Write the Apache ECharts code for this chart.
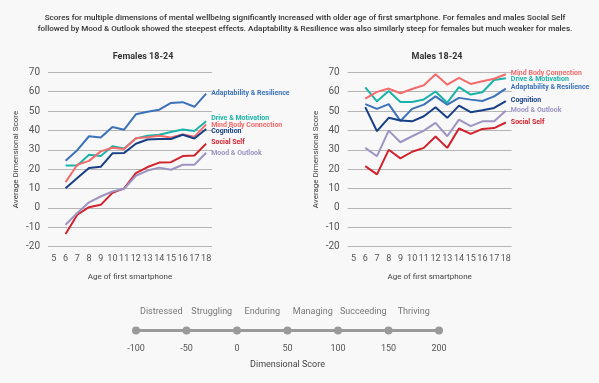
<!DOCTYPE html>
<html>
<head>
<meta charset="utf-8">
<script src="https://cdn.jsdelivr.net/npm/echarts@6/dist/echarts.min.js"></script>
<style>
html,body{margin:0;padding:0;background:#f8f8f8;}
#chart{width:599px;height:383px;}
</style>
</head>
<body>
<div id="chart"></div>
<script>
// ---- data ----
const ages = ['5','6','7','8','9','10','11','12','13','14','15','16','17','18'];
const seriesNames = ['Adaptability & Resilience','Drive & Motivation','Mind Body Connection','Cognition','Social Self','Mood & Outlook'];

// Females 18-24, ages 6..18
const femAdapt  = [24.4, 29.8, 37.0, 36.3, 41.8, 40.4, 48.3, 49.6, 50.7, 54.2, 54.6, 52.2, 59.0];
const femDrive  = [21.9, 21.9, 27.5, 26.8, 31.8, 30.7, 35.8, 37.3, 37.8, 39.2, 40.5, 39.7, 44.7];
const femMind   = [13.3, 22.3, 24.3, 29.2, 31.1, 30.4, 36.0, 36.5, 37.2, 36.4, 37.9, 36.8, 43.1];
const femCog    = [10.2, 15.4, 20.6, 21.2, 28.2, 28.4, 33.1, 35.3, 35.6, 35.6, 37.8, 35.8, 40.7];
const femSocial = [-13.4, -3.5, 0.4, 1.6, 7.8, 10.1, 18.0, 21.1, 23.4, 23.6, 26.8, 27.1, 33.2];
const femMood   = [-8.7, -2.6, 2.9, 5.9, 8.5, 9.9, 16.6, 19.3, 20.8, 19.7, 22.3, 22.3, 28.5];

// Males 18-24, ages 6..18
const malAdapt  = [53.6, 51.1, 53.6, 44.9, 51.1, 53.3, 57.6, 53.3, 56.8, 55.9, 55.2, 57.6, 61.6];
const malDrive  = [62.2, 55.0, 60.3, 54.7, 54.7, 56.0, 60.1, 54.3, 62.3, 58.5, 59.7, 66.0, 66.9];
const malMind   = [56.4, 59.9, 61.6, 59.2, 61.4, 63.3, 69.0, 63.6, 67.1, 64.0, 65.4, 66.7, 69.0];
const malCog    = [52.0, 39.6, 46.5, 45.1, 44.7, 47.3, 52.0, 46.5, 52.8, 49.4, 50.4, 51.6, 55.1];
const malSocial = [21.6, 17.3, 30.0, 25.6, 29.0, 31.0, 36.9, 31.0, 41.0, 38.2, 40.8, 41.2, 44.1];
const malMood   = [31.0, 26.7, 39.9, 33.9, 37.0, 39.9, 43.9, 37.0, 45.6, 42.2, 44.7, 44.7, 50.2];

const yTicks = [-20, -10, 0, 10, 20, 30, 40, 50, 60, 70];
const scaleTicks = [-100, -50, 0, 50, 100, 150, 200];
const scaleBands = ['Distressed','Struggling','Enduring','Managing','Succeeding','Thriving'];

// ---- style ----
const colors = {
  'Adaptability & Resilience': '#3b72b8',
  'Drive & Motivation': '#1bb3a9',
  'Mind Body Connection': '#f36b6b',
  'Cognition': '#173f86',
  'Social Self': '#d1222d',
  'Mood & Outlook': '#9d94c1'
};
const FONT = 'Roboto';
const femLabelDy = {'Adaptability & Resilience':0,'Drive & Motivation':-3,'Mind Body Connection':1,'Cognition':2.5,'Social Self':-1,'Mood & Outlook':0.5};
const malLabelDy = {'Adaptability & Resilience':-1,'Drive & Motivation':0.5,'Mind Body Connection':-1,'Cognition':-1,'Social Self':-0.5,'Mood & Outlook':0};

const chart = echarts.init(document.getElementById('chart'), null, {renderer:'canvas'});

function lineSeries(name, vals, idx, dyMap) {
  return {
    type: 'line', name: name,
    xAxisIndex: idx, yAxisIndex: idx,
    data: [null].concat(vals),
    symbol: 'none', smooth: false,
    lineStyle: {width: 2, color: colors[name]},
    itemStyle: {color: colors[name]},
    endLabel: {
      show: true, formatter: name, color: colors[name],
      fontFamily: FONT, fontSize: 7, fontWeight: 'bold',
      distance: 5, offset: [0, dyMap[name]]
    },
    emphasis: {disabled: true},
    z: 3
  };
}

function catAxis(idx) {
  return {
    type: 'category', gridIndex: idx, data: ages, boundaryGap: true,
    axisLine: {show: false}, axisTick: {show: false},
    axisLabel: {interval: 0, fontFamily: FONT, fontSize: 9, color: '#555', margin: 8},
    name: 'Age of first smartphone', nameLocation: 'middle', nameGap: 26,
    nameTextStyle: {fontFamily: FONT, fontSize: 8, color: '#444'}
  };
}
function valAxis(idx) {
  return {
    type: 'value', gridIndex: idx, min: yTicks[0], max: yTicks[yTicks.length-1], interval: 10,
    axisLine: {show: false}, axisTick: {show: false},
    axisLabel: {fontFamily: FONT, fontSize: 10, color: '#555', margin: 8},
    splitLine: {lineStyle: {color: '#b5b5b5', width: 1}},
    name: 'Average Dimensional Score', nameLocation: 'middle', nameGap: 28,
    nameTextStyle: {fontFamily: FONT, fontSize: 8, color: '#444'}
  };
}

const fem = [femAdapt, femDrive, femMind, femCog, femSocial, femMood];
const mal = [malAdapt, malDrive, malMind, malCog, malSocial, malMood];

const series = [];
seriesNames.forEach((n, i) => series.push(lineSeries(n, fem[i], 0, femLabelDy)));
seriesNames.forEach((n, i) => series.push(lineSeries(n, mal[i], 1, malLabelDy)));

// bottom scale
series.push({
  type: 'line', xAxisIndex: 2, yAxisIndex: 2,
  data: scaleTicks.map(t => [t, 0]),
  symbol: 'circle', symbolSize: 8,
  lineStyle: {width: 3, color: '#9a9a9a'},
  itemStyle: {color: '#9a9a9a'},
  emphasis: {disabled: true}, silent: true
});
series.push({
  type: 'scatter', xAxisIndex: 2, yAxisIndex: 2,
  data: scaleBands.map((b, i) => ({name: b, value: [(scaleTicks[i] + scaleTicks[i+1]) / 2, 0]})),
  symbolSize: 0,
  label: {show: true, position: 'top', distance: 14, formatter: p => p.name,
          fontFamily: FONT, fontSize: 9, color: '#555'},
  emphasis: {disabled: true}, silent: true
});

chart.setOption({
  backgroundColor: '#f8f8f8',
  animation: false,
  title: [
    {text: 'Scores for multiple dimensions of mental wellbeing significantly increased with older age of first smartphone. For females and males Social Self\nfollowed by Mood & Outlook showed the steepest effects. Adaptability & Resilience was also similarly steep for females but much weaker for males.',
     left: 300, top: 7, textAlign: 'center',
     textStyle: {fontFamily: FONT, fontSize: 8.1, fontWeight: 500, color: '#333', lineHeight: 11}},
    {text: 'Females 18-24', left: 138, top: 47, textAlign: 'center',
     textStyle: {fontFamily: FONT, fontSize: 9, fontWeight: 'bold', color: '#333'}},
    {text: 'Males 18-24', left: 432, top: 47, textAlign: 'center',
     textStyle: {fontFamily: FONT, fontSize: 9, fontWeight: 'bold', color: '#333'}}
  ],
  grid: [
    {left: 48, top: 72.3, width: 164, height: 174.4},
    {left: 347.7, top: 72.3, width: 164, height: 174.4},
    {left: 136, top: 325, width: 303, height: 11}
  ],
  xAxis: [
    catAxis(0), catAxis(1),
    {type: 'value', gridIndex: 2, min: scaleTicks[0], max: scaleTicks[scaleTicks.length-1], interval: 50,
     axisLine: {show: false}, axisTick: {show: false}, splitLine: {show: false},
     axisLabel: {fontFamily: FONT, fontSize: 9, color: '#555', margin: 8, showMinLabel: true, showMaxLabel: true},
     name: 'Dimensional Score', nameLocation: 'middle', nameGap: 24,
     nameTextStyle: {fontFamily: FONT, fontSize: 9, color: '#444'}}
  ],
  yAxis: [
    valAxis(0), valAxis(1),
    {type: 'value', gridIndex: 2, min: -1, max: 1, show: false}
  ],
  series: series
});
</script>
</body>
</html>
